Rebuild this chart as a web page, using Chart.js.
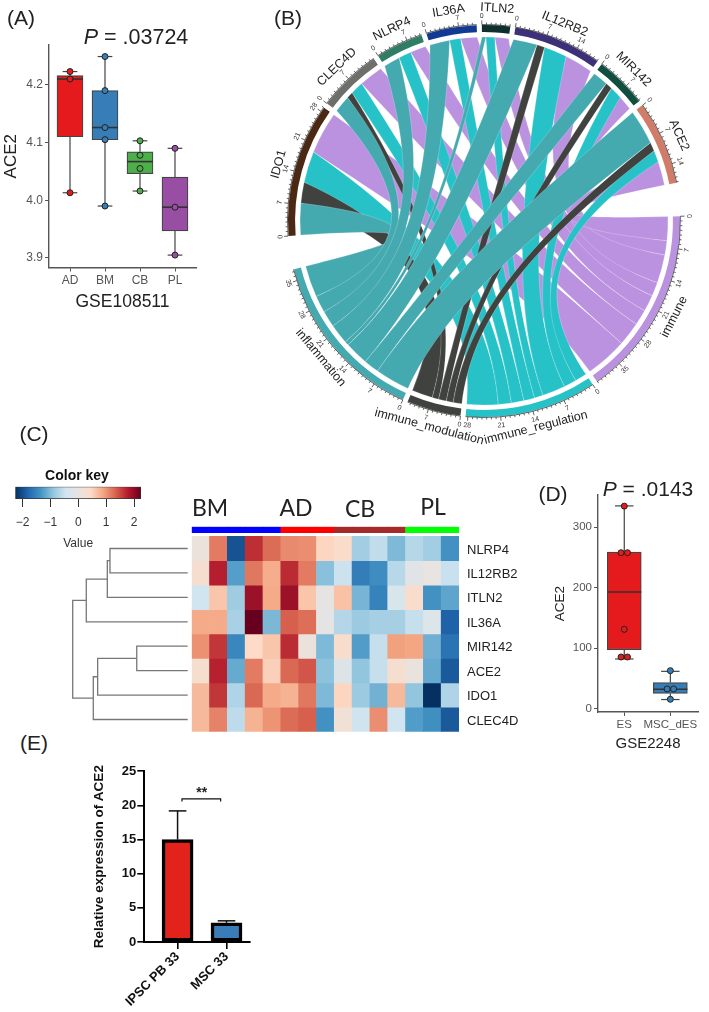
<!DOCTYPE html>
<html>
<head>
<meta charset="utf-8">
<script src="https://cdn.jsdelivr.net/npm/chart.js@4/dist/chart.umd.min.js"></script>
<style>
  html, body { margin: 0; background: #fff; }
  #page { position: relative; width: 709px; height: 1012px; overflow: hidden; font-family: "Liberation Sans", Arial, sans-serif; color: #222; }
  #page canvas { position: absolute; }
  .note { position: absolute; white-space: nowrap; transform: translate(-50%, -50%); }
</style>
</head>
<body>
<div id="page"></div>
<script>
// (A) GSE108511 boxplot
const aCategories = ["AD", "BM", "CB", "PL"];
const aLow = [4.013, 3.99, 4.016, 3.905];
const aQ1 = [4.11, 4.105, 4.046, 3.947];
const aMedian = [4.21, 4.126, 4.067, 3.988];
const aQ3 = [4.216, 4.19, 4.084, 4.04];
const aHigh = [4.223, 4.249, 4.103, 4.09];
const aPoints = [
  [4.223, 4.21, 4.013],
  [4.249, 4.19, 4.126, 4.105, 3.99],
  [4.103, 4.078, 4.055, 4.016],
  [4.09, 3.988, 3.905],
];
const aTicks = [3.9, 4.0, 4.1, 4.2];
const aColors = ["#E41A1C", "#377EB8", "#4DAF4A", "#984EA3"];

// (B) chord diagram, flows per gene
const chordGenes = ["IDO1", "CLEC4D", "NLRP4", "IL36A", "ITLN2", "IL12RB2", "MIR142", "ACE2"];
const chordTerms = ["immune", "immune_regulation", "immune_modulation", "inflammation"];
const flowInflammation = [7.3, 3.9, 3.8, 4.6, 0.9, 5.5, 3.5, 8];
const flowModulation = [4.8, 1.5, 0, 0, 0, 1.8, 1.6, 2];
const flowRegulation = [7.2, 3, 2.9, 2.5, 2, 5.3, 2.9, 2.7];
const flowImmune = [9.7, 5.5, 3.6, 3.8, 3.2, 6.5, 3.3, 5.5];
const geneColors = ["#4A2813", "#6E6E6A", "#2E7D64", "#123A94", "#0F2F2F", "#3D2F78", "#0F4F3F", "#D17C68"];
const termColors = ["#BB92E0", "#26C2C8", "#40423F", "#45A9B0"];

// (C) heatmap
const heatGenes = ["NLRP4", "IL12RB2", "ITLN2", "IL36A", "MIR142", "ACE2", "IDO1", "CLEC4D"];
const heatColumns = ["BM1", "BM2", "BM3", "BM4", "BM5", "AD1", "AD2", "AD3", "CB1", "CB2", "CB3", "CB4", "PL1", "PL2", "PL3"];
const heatColumnColors = ["#0000FF", "#0000FF", "#0000FF", "#0000FF", "#0000FF", "#FF0000", "#FF0000", "#FF0000", "#A52A2A", "#A52A2A", "#A52A2A", "#A52A2A", "#00FF00", "#00FF00", "#00FF00"];
const heatValues = [
  [0.1, 1.2, -2.0, 1.7, 1.3, 1.1, 1.08, 0.5, 0.4, -0.8, -0.58, -1.03, -0.66, -0.8, -1.4],
  [0.3, 1.8, -1.28, 1.22, 0.85, 1.72, 1.2, -0.97, -0.5, -1.6, -1.45, -0.65, -0.12, 0.02, -0.52],
  [-0.45, 0.65, -0.82, 1.98, 0.88, 1.98, 0.65, 0, 0.68, -1.08, -1.55, -0.3, 0.35, -1.4, -1.22],
  [0.87, 0.87, -0.75, 2.3, -1.05, 1.38, 1.28, -0.05, -0.67, -0.85, -0.77, -0.77, -0.55, -0.25, -1.87],
  [1.05, 1.65, -1.5, 0.45, 0.65, 1.72, 0.1, -1.03, 0.35, -1.3, -0.55, 0.95, 0.92, -1.12, -1.7],
  [0.32, 1.78, -1.17, 1.2, 0.55, 1.32, 1.45, -0.95, -0.2, -0.92, -0.55, 0.3, 0.08, -1.18, -1.95],
  [0.75, 1.65, -0.7, 1.32, 0.87, 0.8, 1.22, -1.03, 0.5, -0.85, -1.1, 0.75, -0.92, -2.3, -0.7],
  [0.75, 1.15, -0.6, 0.8, 1.03, 1.3, 1.38, -1.4, 0.2, -0.47, 1.08, -0.45, -1.3, -1.42, -1.95],
];
const keyTicks = [-2, -1, 0, 1, 2];
const keyStops = ["#053061", "#2166AC", "#4393C3", "#92C5DE", "#D1E5F0", "#E6E4E2", "#FDDBC7", "#F4A582", "#D6604D", "#B2182B", "#67001F"];

// dendrogram merges, negative child = earlier merge (like hclust)
const dendroHeights = [0.676, 0.699, 0.882, 0.443, 0.783, 0.821, 1.0];
const dendroFirst = [0, -1, -2, 4, -4, -5, -3];
const dendroSecond = [1, 2, 3, 5, 6, 7, -6];

// (D) GSE2248 boxplot
const dCategories = ["ES", "MSC_dES"];
const dLow = [82, 15];
const dQ1 = [97.4, 25];
const dMedian = [192.6, 32];
const dQ3 = [258.7, 43];
const dHigh = [335, 61.6];
const dPoints = [
  [334.6, 257.6, 257.6, 131, 85.3, 85.3],
  [62.7, 32.5, 32.5, 15.4],
];
const dJitter = [
  [0, -0.07, 0.07, 0, -0.07, 0.07],
  [0, -0.07, 0.07, 0],
];
const dTicks = [0, 100, 200, 300];
const dColors = ["#E41A1C", "#377EB8"];

// (E) qPCR bars
const eCategories = ["IPSC PB 33", "MSC 33"];
const eValues = [15, 2.8];
const eErrors = [19.2, 3.1];
const eTicks = [0, 5, 10, 15, 20, 25];
const eColors = ["#E3231B", "#3A7CB8"];

Chart.defaults.font.family = '"Liberation Sans", Arial, sans-serif';
const page = document.getElementById("page");
const GREY = "#555";

function makeCanvas(box) {
  const c = document.createElement("canvas");
  c.width = box.right - box.left;
  c.height = box.bottom - box.top;
  c.style.left = box.left + "px";
  c.style.top = box.top + "px";
  page.appendChild(c);
  return c;
}

function note(html, x, y, css) {
  const d = document.createElement("div");
  d.className = "note";
  d.innerHTML = html;
  d.style.left = x + "px";
  d.style.top = y + "px";
  d.style.cssText += css;
  page.appendChild(d);
}

function framePadding(box, area, yWidth, xHeight) {
  return {
    left: area.left - box.left - yWidth,
    right: box.right - area.right,
    top: area.top - box.top,
    bottom: box.bottom - area.bottom - xHeight,
  };
}

function lineSet(points, color, width, order) {
  return {
    type: "scatter",
    data: points,
    showLine: true,
    borderColor: color,
    backgroundColor: color,
    borderWidth: width,
    pointRadius: 0,
    tension: 0,
    clip: false,
    order: order,
  };
}

function boxSets(low, q1, med, q3, high, points, jitter, colors, boxPx, boxHalf, capHalf, dotR) {
  const sets = [];
  colors.forEach((color, i) => {
    const x = i + 1;
    sets.push(lineSet([{ x, y: low[i] }, { x, y: q1[i] }], "#444", 1.2, 5));
    sets.push(lineSet([{ x, y: q3[i] }, { x, y: high[i] }], "#444", 1.2, 5));
    sets.push(lineSet([{ x: x - capHalf, y: low[i] }, { x: x + capHalf, y: low[i] }], "#444", 1.2, 5));
    sets.push(lineSet([{ x: x - capHalf, y: high[i] }, { x: x + capHalf, y: high[i] }], "#444", 1.2, 5));
    sets.push(lineSet([{ x: x - boxHalf, y: med[i] }, { x: x + boxHalf, y: med[i] }], "#333", 1.6, 3));
    sets.push({
      type: "scatter",
      data: points[i].map((y, k) => ({ x: x + (jitter ? jitter[i][k] : 0), y })),
      backgroundColor: color,
      borderColor: "#222",
      borderWidth: 1,
      pointRadius: dotR,
      clip: false,
      order: 1,
    });
  });
  sets.push({
    type: "bar",
    data: colors.map((_, i) => ({ x: i + 1, y: [q1[i], q3[i]] })),
    backgroundColor: colors,
    borderColor: "#444",
    borderWidth: 1.2,
    borderSkipped: false,
    barThickness: boxPx,
    order: 8,
  });
  return sets;
}

function boxChart(box, area, yWidth, xHeight, cats, ticks, yMin, yMax, xMin, xMax, datasets, fonts) {
  return new Chart(makeCanvas(box), {
    data: { datasets },
    options: {
      responsive: false,
      animation: false,
      layout: { padding: framePadding(box, area, yWidth, xHeight) },
      plugins: { legend: { display: false }, tooltip: { enabled: false } },
      scales: {
        x: {
          type: "linear",
          offset: false,
          min: xMin,
          max: xMax,
          afterBuildTicks: (s) => { s.ticks = cats.map((_, i) => ({ value: i + 1 })); },
          afterFit: (s) => { s.height = xHeight; },
          border: { color: GREY, width: 1.4 },
          grid: { offset: false, drawOnChartArea: false, color: GREY, tickLength: 4 },
          ticks: {
            autoSkip: false,
            maxRotation: 0,
            padding: 2,
            color: GREY,
            font: { size: fonts.tick },
            callback: (v) => cats[v - 1],
          },
          title: { display: !!fonts.xTitle, text: fonts.xTitle, color: "#222", padding: 0, font: { size: fonts.xSize } },
        },
        y: {
          min: yMin,
          max: yMax,
          afterBuildTicks: (s) => { s.ticks = ticks.map((value) => ({ value })); },
          afterFit: (s) => { s.width = yWidth; },
          border: { color: GREY, width: 1.4 },
          grid: { drawOnChartArea: false, color: GREY, tickLength: 4 },
          ticks: { padding: 2, color: GREY, font: { size: fonts.tick }, callback: fonts.yFormat },
          title: { display: !!fonts.yTitle, text: fonts.yTitle, color: "#222", padding: 0, font: { size: fonts.ySize } },
        },
      },
    },
  });
}

// panel A
boxChart(
  { left: 0, top: 30, right: 215, bottom: 320 },
  { left: 49, top: 45, right: 196, bottom: 267.5 },
  48, 45, aCategories, aTicks, 3.8835, 4.269, 0.4, 4.6,
  boxSets(aLow, aQ1, aMedian, aQ3, aHigh, aPoints, null, aColors, 26, 0.37, 0.21, 3),
  { tick: 12, xTitle: "GSE108511", xSize: 17.5, yTitle: "ACE2", ySize: 17, yFormat: (v) => v.toFixed(1) }
);
note("<i>P</i> = .03724", 136, 37, "font-size:21.5px;");
note("(A)", 21, 18, "font-size:21px;");

// panel B
const flowRows = [flowInflammation, flowModulation, flowRegulation, flowImmune];
const ribbonColors = [termColors[3], termColors[2], termColors[1], termColors[0]];
const geneTotals = chordGenes.map((_, g) => flowRows.reduce((sum, row) => sum + row[g], 0));
const termTotals = [flowImmune, flowRegulation, flowModulation, flowInflammation].map((row) => row.reduce((a, b) => a + b, 0));
const smallGap = 1.1;
const bigGap = 7.2;
const chordNames = chordGenes.concat(chordTerms);
const chordTotals = geneTotals.concat(termTotals);
const chordColors = geneColors.concat(termColors);
const ringData = [];
const ringFill = [];
chordTotals.forEach((total, i) => {
  ringData.push(total);
  ringFill.push(chordColors[i]);
  ringData.push(i === chordGenes.length - 1 || i === chordTotals.length - 1 ? bigGap : smallGap);
  ringFill.push("rgba(0,0,0,0)");
});

const ribbonPlugin = {
  id: "ribbons",
  afterDatasetsDraw(chart) {
    const arcs = chart.getDatasetMeta(0).data;
    const ctx = chart.ctx;
    const { x: cx, y: cy } = arcs[0];
    const R = 184;
    const sector = (i) => arcs[i * 2];
    const radPerUnit = (i) => (sector(i).endAngle - sector(i).startAngle) / chordTotals[i];
    const px = (a, k = 1) => cx + k * R * Math.cos(a);
    const py = (a, k = 1) => cy + k * R * Math.sin(a);

    // link ends: genes hold terms in row order, terms hold genes from last to first
    const geneCursor = chordGenes.map((_, g) => sector(g).startAngle);
    const links = [];
    flowRows.forEach((row, r) => {
      const termIndex = chordGenes.length + (3 - r);
      let termCursor = sector(termIndex).startAngle;
      for (let g = chordGenes.length - 1; g >= 0; g--) {
        if (!row[g]) continue;
        const a0 = termCursor;
        termCursor += row[g] * radPerUnit(termIndex);
        links.push({ r, g, t0: a0, t1: termCursor });
      }
    });
    links.sort((p, q) => p.g - q.g || p.r - q.r);
    links.forEach((l) => {
      l.g0 = geneCursor[l.g];
      geneCursor[l.g] += flowRows[l.r][l.g] * radPerUnit(l.g);
      l.g1 = geneCursor[l.g];
    });

    const TERM_PULL = 0.55;
    ctx.save();
    for (let r = 3; r >= 0; r--) {
      links.filter((l) => l.r === r).forEach((l) => {
        // gene side bends round the shorter way, term side leaves radially so the bands stay together
        const gm = (l.g0 + l.g1) / 2;
        const tm = (l.t0 + l.t1) / 2;
        let d = (tm - gm) % (Math.PI * 2);
        if (d > Math.PI) d -= Math.PI * 2;
        if (d < -Math.PI) d += Math.PI * 2;
        const bend = 0.3 * R * Math.sin(Math.abs(d));
        const bx = cx + bend * Math.cos(gm + d / 2);
        const by = cy + bend * Math.sin(gm + d / 2);
        const wx = 0.2 * (px(l.g1) - px(l.g0) + px(l.t0) - px(l.t1));
        const wy = 0.2 * (py(l.g1) - py(l.g0) + py(l.t0) - py(l.t1));
        ctx.beginPath();
        ctx.arc(cx, cy, R, l.g0, l.g1);
        ctx.bezierCurveTo(bx + wx, by + wy, px(l.t0, TERM_PULL), py(l.t0, TERM_PULL), px(l.t0), py(l.t0));
        ctx.arc(cx, cy, R, l.t0, l.t1);
        ctx.bezierCurveTo(px(l.t1, TERM_PULL), py(l.t1, TERM_PULL), bx - wx, by - wy, px(l.g0), py(l.g0));
        ctx.closePath();
        ctx.fillStyle = ribbonColors[r];
        ctx.fill();
        ctx.strokeStyle = "rgba(255,255,255,0.55)";
        ctx.lineWidth = 0.4;
        ctx.stroke();
      });
    }

    // ticks and names
    const upright = (angle) => {
      const bearing = (angle + Math.PI / 2 + Math.PI * 2) % (Math.PI * 2);
      return bearing > Math.PI / 2 && bearing < (Math.PI * 3) / 2 ? bearing + Math.PI : bearing;
    };
    const textAt = (text, angle, radius) => {
      ctx.save();
      ctx.translate(cx + radius * Math.cos(angle), cy + radius * Math.sin(angle));
      ctx.rotate(upright(angle));
      ctx.fillText(text, 0, 0);
      ctx.restore();
    };
    const ringOuter = sector(0).outerRadius;
    ctx.textAlign = "center";
    ctx.textBaseline = "middle";
    chordNames.forEach((name, i) => {
      const arc = sector(i);
      const step = radPerUnit(i);
      ctx.strokeStyle = "#222";
      ctx.lineWidth = 0.7;
      ctx.beginPath();
      ctx.arc(cx, cy, ringOuter + 0.5, arc.startAngle, arc.endAngle);
      ctx.stroke();
      ctx.fillStyle = "#333";
      ctx.font = '7px "Liberation Sans"';
      for (let u = 0; u <= chordTotals[i]; u++) {
        const a = arc.startAngle + u * step;
        const len = u % 7 === 0 ? 4 : 2;
        ctx.beginPath();
        ctx.moveTo(cx + (ringOuter + 0.5) * Math.cos(a), cy + (ringOuter + 0.5) * Math.sin(a));
        ctx.lineTo(cx + (ringOuter + 0.5 + len) * Math.cos(a), cy + (ringOuter + 0.5 + len) * Math.sin(a));
        ctx.stroke();
        if (u % 7 === 0) textAt(String(u), a, ringOuter + 9);
      }
      ctx.fillStyle = "#222";
      ctx.font = '12.5px "Liberation Sans"';
      textAt(name, (arc.startAngle + arc.endAngle) / 2, 213);
    });
    ctx.restore();
  },
};

new Chart(makeCanvas({ left: 259, top: 0, right: 709, bottom: 460 }), {
  type: "doughnut",
  data: {
    labels: ringData.map((_, i) => (i % 2 ? "" : chordNames[i / 2])),
    datasets: [{ data: ringData, backgroundColor: ringFill, borderWidth: 0 }],
  },
  options: {
    responsive: false,
    animation: false,
    rotation: 265.6,
    radius: 196,
    cutout: "96.4%",
    layout: { padding: { bottom: 18 } },
    plugins: { legend: { display: false }, tooltip: { enabled: false } },
  },
  plugins: [ribbonPlugin],
});
note("(B)", 288, 18, "font-size:21px;");

// panel C
function heatColor(v) {
  const t = Math.max(0, Math.min(1, (v + 2.3) / 4.6)) * (keyStops.length - 1);
  const i = Math.min(Math.floor(t), keyStops.length - 2);
  const hex = (s, p) => parseInt(s.substr(p, 2), 16);
  const mix = (p) => Math.round(hex(keyStops[i], p) + (hex(keyStops[i + 1], p) - hex(keyStops[i], p)) * (t - i));
  return `rgb(${mix(1)},${mix(3)},${mix(5)})`;
}

const heatTop = -0.393;
const heatSets = heatValues.map((row, r) => ({
  data: row.map((_, c) => [r, r + 1]),
  backgroundColor: row.map(heatColor),
  borderWidth: 0,
  barPercentage: 1,
  categoryPercentage: 1,
  grouped: false,
}));
heatSets.push({
  data: heatColumns.map(() => [heatTop, -0.148]),
  backgroundColor: heatColumnColors,
  borderWidth: 0,
  barPercentage: 1,
  categoryPercentage: 1,
  grouped: false,
});
const heatBox = { left: 180, top: 518, right: 535, bottom: 740 };
const heatArea = { left: 191.7, top: 526.7, right: 459, bottom: 731.7 };
new Chart(makeCanvas(heatBox), {
  type: "bar",
  data: { labels: heatColumns, datasets: heatSets },
  options: {
    responsive: false,
    animation: false,
    layout: {
      padding: {
        left: heatArea.left - heatBox.left,
        top: heatArea.top - heatBox.top,
        right: 0,
        bottom: heatBox.bottom - heatArea.bottom,
      },
    },
    plugins: { legend: { display: false }, tooltip: { enabled: false } },
    scales: {
      x: { display: false },
      y: {
        position: "right",
        reverse: true,
        min: heatTop,
        max: 8,
        afterBuildTicks: (s) => { s.ticks = heatGenes.map((_, i) => ({ value: i + 0.5 })); },
        afterFit: (s) => { s.width = heatBox.right - heatArea.right; },
        border: { display: false },
        grid: { display: false },
        ticks: {
          autoSkip: false,
          padding: 0,
          labelOffset: 1.5,
          color: "#222",
          font: { size: 13 },
          callback: (v) => heatGenes[v - 0.5],
        },
      },
    },
  },
});

// dendrogram
function dendroNode(child) {
  if (child >= 0) return { h: 0, y: child + 0.5 };
  const m = -child - 1;
  const a = dendroNode(dendroFirst[m]);
  const b = dendroNode(dendroSecond[m]);
  return { h: dendroHeights[m], y: (a.y + b.y) / 2 };
}
const dendroSets = dendroHeights.map((h, m) => {
  const a = dendroNode(dendroFirst[m]);
  const b = dendroNode(dendroSecond[m]);
  return lineSet([{ x: a.h, y: a.y }, { x: h, y: a.y }, { x: h, y: b.y }, { x: b.h, y: b.y }], "#777", 1.3, 1);
});
const dendroBox = { left: 60, top: 518, right: 195, bottom: 740 };
new Chart(makeCanvas(dendroBox), {
  data: { datasets: dendroSets },
  options: {
    responsive: false,
    animation: false,
    layout: {
      padding: {
        left: 72.7 - dendroBox.left,
        right: dendroBox.right - 187.7,
        top: heatArea.top - dendroBox.top,
        bottom: dendroBox.bottom - heatArea.bottom,
      },
    },
    plugins: { legend: { display: false }, tooltip: { enabled: false } },
    scales: {
      x: { type: "linear", display: false, reverse: true, min: 0, max: 1 },
      y: { display: false, reverse: true, min: heatTop, max: 8 },
    },
  },
});

// colour key
const keyBox = { left: 0, top: 478, right: 170, bottom: 560 };
const keyArea = { left: 15.3, top: 486.7, right: 141, bottom: 499 };
new Chart(makeCanvas(keyBox), {
  type: "bar",
  data: {
    labels: ["Value"],
    datasets: [{
      data: [[-2.26, 2.25]],
      barPercentage: 1,
      categoryPercentage: 1,
      borderColor: "#333",
      borderWidth: 1,
      borderSkipped: false,
      backgroundColor: ({ chart }) => {
        const a = chart.chartArea;
        if (!a) return "#ccc";
        const g = chart.ctx.createLinearGradient(a.left, 0, a.right, 0);
        keyStops.forEach((c, i) => g.addColorStop(i / (keyStops.length - 1), c));
        return g;
      },
    }],
  },
  options: {
    indexAxis: "y",
    responsive: false,
    animation: false,
    layout: { padding: framePadding(keyBox, keyArea, 0, 52) },
    plugins: { legend: { display: false }, tooltip: { enabled: false } },
    scales: {
      y: { display: false },
      x: {
        type: "linear",
        offset: false,
        min: -2.26,
        max: 2.25,
        afterBuildTicks: (s) => { s.ticks = keyTicks.map((value) => ({ value })); },
        afterFit: (s) => { s.height = 52; },
        border: { display: false },
        grid: { offset: false, drawOnChartArea: false, color: "#333", tickLength: 8 },
        ticks: {
          padding: 8,
          color: "#333",
          maxRotation: 0,
          font: { size: 12 },
          callback: (v) => String(v).replace("-", "\u2212"),
        },
        title: { display: true, text: "Value", color: "#333", padding: 0, font: { size: 12 } },
      },
    },
  },
});
note("Color key", 77, 475, "font-size:14px;font-weight:bold;color:#111;");
note("(C)", 34, 434, "font-size:21px;");
note("BM", 210, 507, 'font:23px Lato;');
note("AD", 296, 507, 'font:23px Lato;');
note("CB", 360, 508, 'font:23px Lato;');
note("PL", 433, 506, 'font:23px Lato;');

// panel D
boxChart(
  { left: 552, top: 485, right: 709, bottom: 753 },
  { left: 598, top: 495, right: 698, bottom: 712 },
  46, 41, dCategories, dTicks, -5.6, 353, 0.43, 2.6,
  boxSets(dLow, dQ1, dMedian, dQ3, dHigh, dPoints, dJitter, dColors, 34, 0.37, 0.2, 3),
  { tick: 11.5, xTitle: "GSE2248", xSize: 15, yTitle: "ACE2", ySize: 13.5, yFormat: (v) => v }
);
note("<i>P</i> = .0143", 648, 489, "font-size:21px;");
note("(D)", 553, 494, "font-size:21px;");

// panel E
const eBox = { left: 90, top: 760, right: 265, bottom: 1012 };
const eArea = { left: 144.3, top: 771.3, right: 250, bottom: 942 };
new Chart(makeCanvas(eBox), {
  data: {
    datasets: [
      {
        type: "bar",
        data: eValues.map((y, i) => ({ x: i + 1, y })),
        backgroundColor: eColors,
        borderColor: "#000",
        borderWidth: 3.5,
        borderSkipped: false,
        barThickness: 31,
        order: 2,
      },
      ...eErrors.map((y, i) => lineSet([{ x: i + 1, y: eValues[i] }, { x: i + 1, y }], "#111", 1.5, 3)),
      ...eErrors.map((y, i) => lineSet([{ x: i + 0.82, y }, { x: i + 1.18, y }], "#111", 1.5, 3)),
      lineSet([{ x: 1.09, y: 20.56 }, { x: 1.09, y: 20.95 }, { x: 1.88, y: 20.95 }, { x: 1.88, y: 20.56 }], "#111", 1.2, 1),
    ],
  },
  options: {
    responsive: false,
    animation: false,
    layout: { padding: framePadding(eBox, eArea, 53.3, 70) },
    plugins: { legend: { display: false }, tooltip: { enabled: false } },
    scales: {
      x: {
        type: "linear",
        offset: false,
        min: 0.32,
        max: 2.48,
        afterBuildTicks: (s) => { s.ticks = eCategories.map((_, i) => ({ value: i + 1 })); },
        afterFit: (s) => { s.height = 70; },
        border: { color: "#000", width: 2 },
        grid: { offset: false, drawOnChartArea: false, color: "#000", lineWidth: 1.6, tickLength: 7 },
        ticks: {
          autoSkip: false,
          minRotation: 45,
          maxRotation: 45,
          padding: 0,
          color: "#111",
          font: { size: 13, weight: "bold" },
          callback: (v) => eCategories[v - 1],
        },
      },
      y: {
        min: 0,
        max: 25,
        afterBuildTicks: (s) => { s.ticks = eTicks.map((value) => ({ value })); },
        afterFit: (s) => { s.width = 53.3; },
        border: { color: "#000", width: 2 },
        grid: { drawOnChartArea: false, color: "#000", lineWidth: 1.6, tickLength: 7 },
        ticks: { padding: 1, color: "#111", font: { size: 13, weight: "bold" } },
        title: {
          display: true,
          text: "Relative expression of ACE2",
          color: "#111",
          padding: 0,
          font: { size: 13.5, weight: "bold" },
        },
      },
    },
  },
});
note("**", 201.7, 792, "font-size:14px;font-weight:bold;");
note("(E)", 34, 743, "font-size:21px;");
</script>
</body>
</html>
